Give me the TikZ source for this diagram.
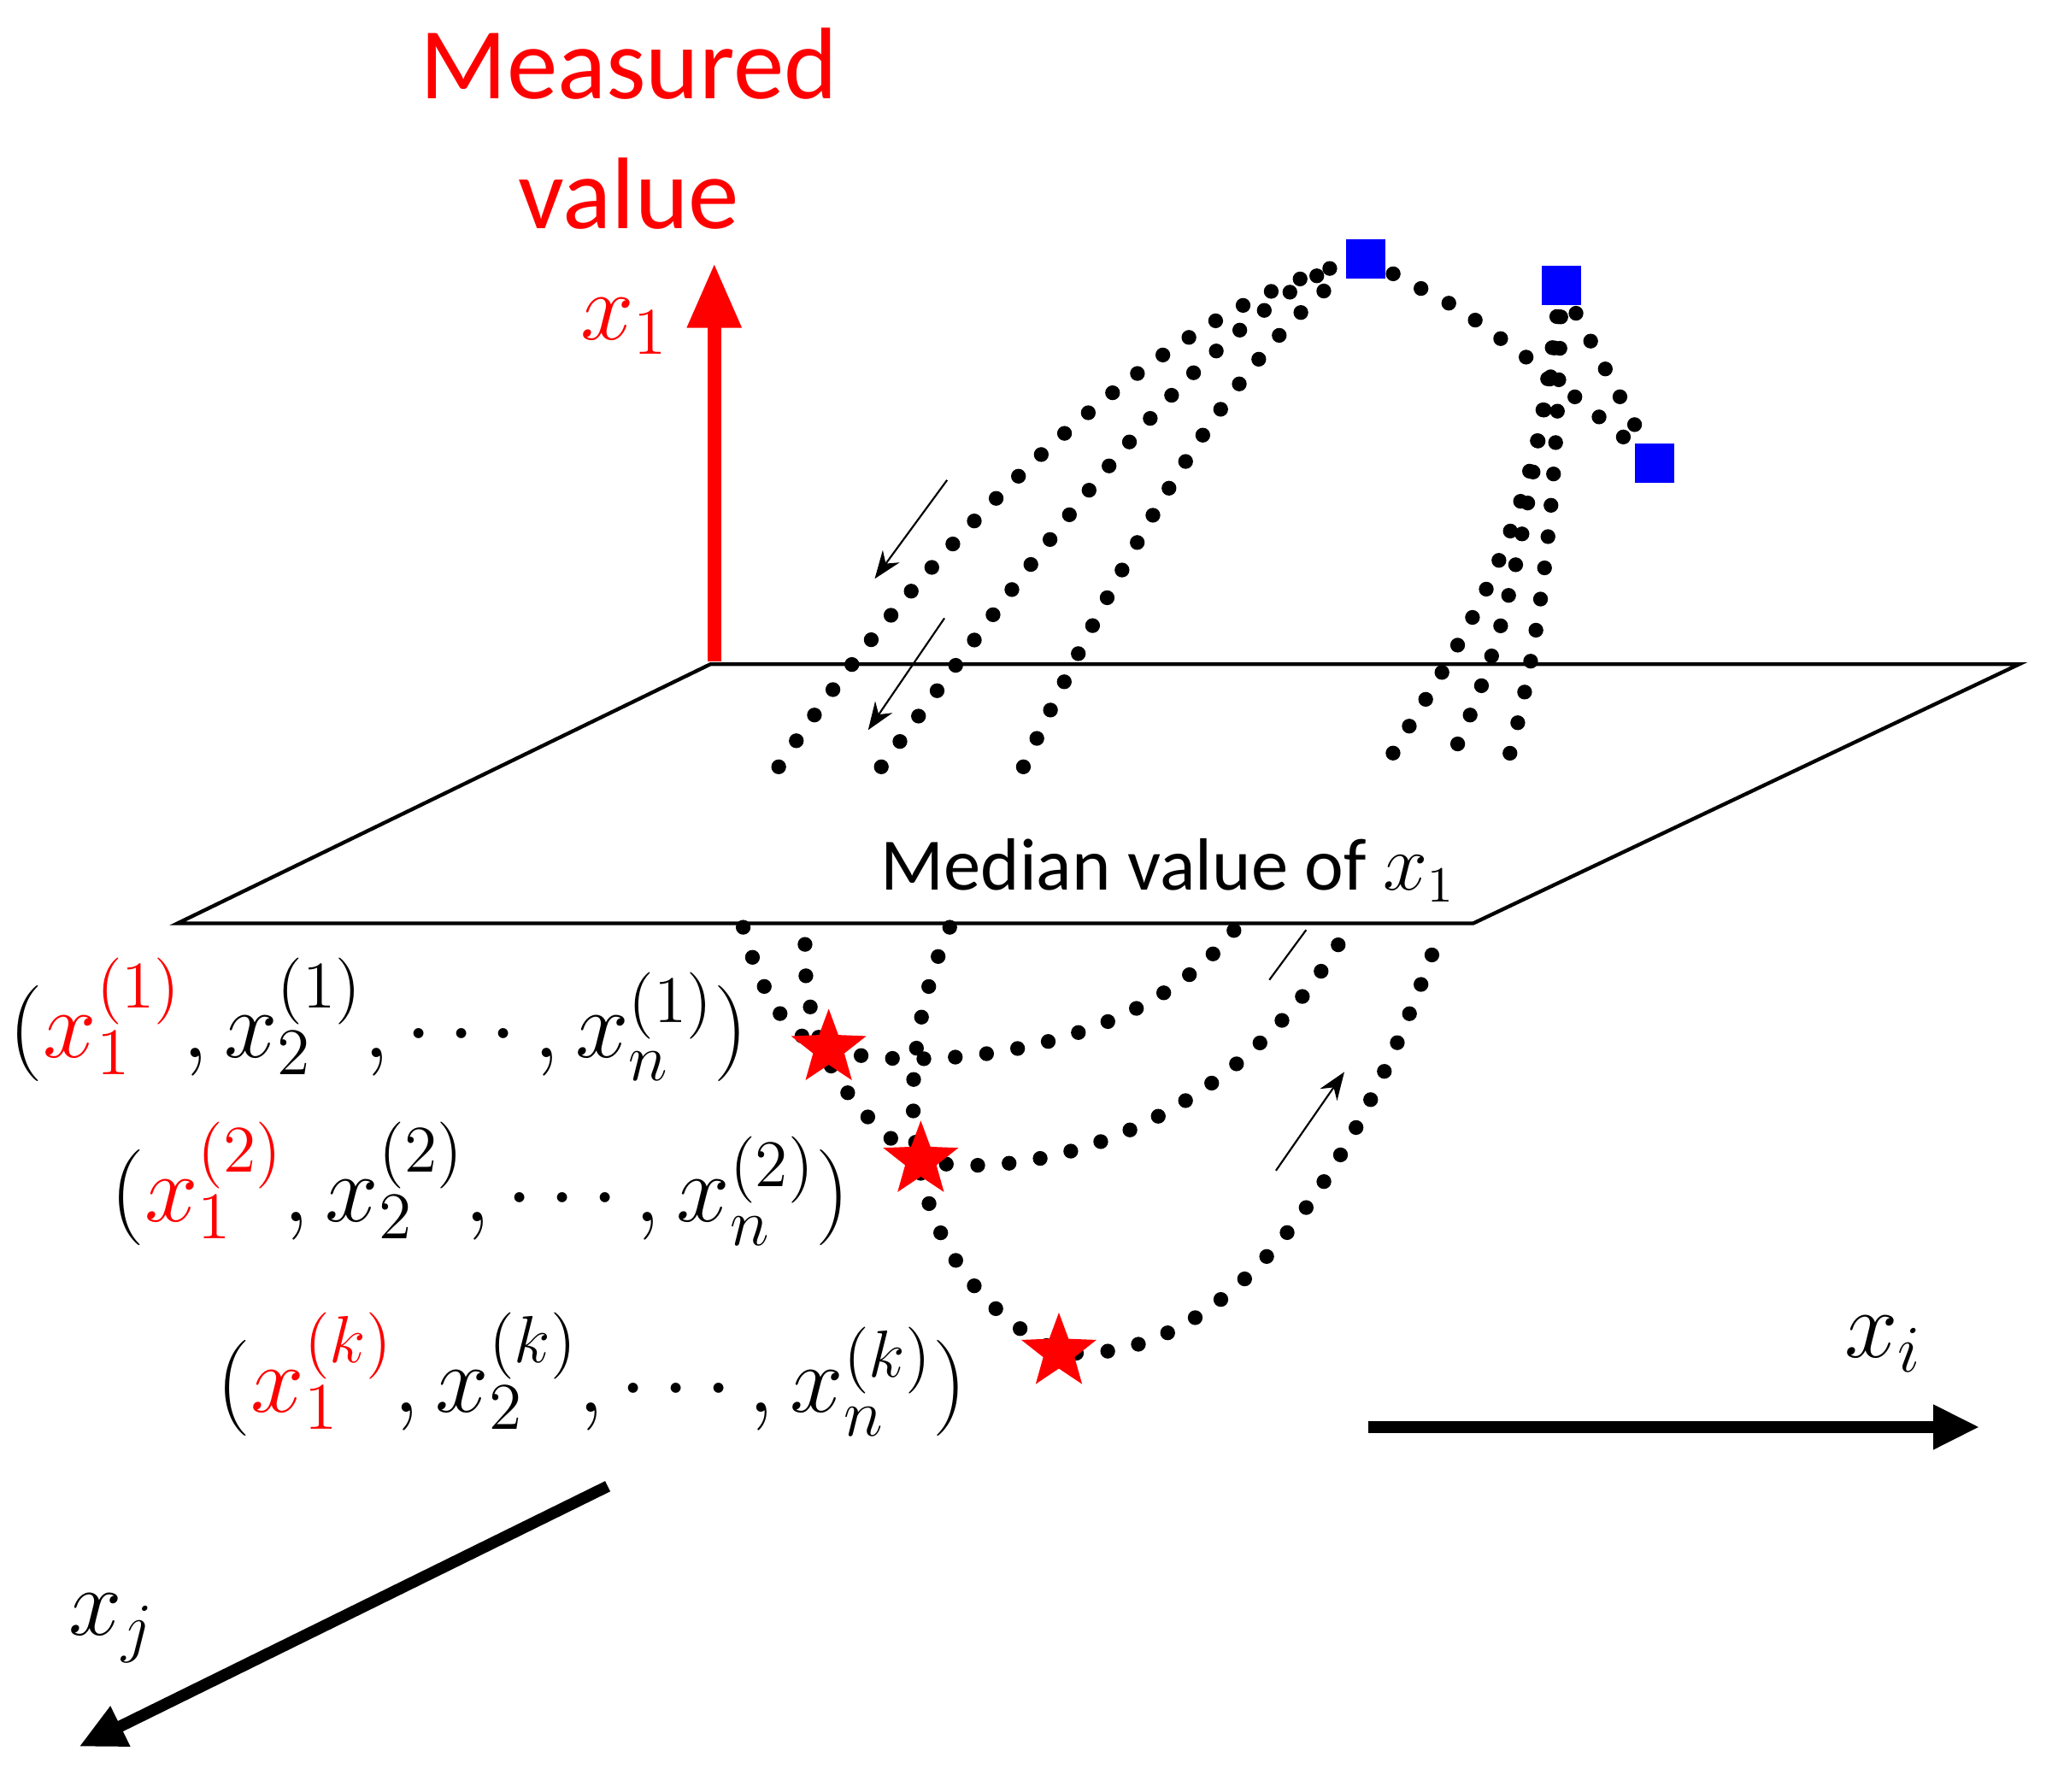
\documentclass[tikz,border=0pt]{standalone}
\usepackage{fontspec}
\setmainfont{Carlito}
\usetikzlibrary{shapes.geometric,arrows.meta}
\tikzset{
  dots/.style={line width=3.2pt,line cap=round,dash pattern=on 0pt off 6.8pt},
  lbl/.style={inner sep=0pt,font=\fontsize{19.5}{23}\selectfont},
  redstar/.style={star,star points=5,star point ratio=2.4,fill=red,inner sep=0pt,minimum size=0.6cm},
  bluesq/.style={fill=blue,inner sep=0pt,minimum size=0.3cm},
  thinarr/.style={-{Stealth[length=6pt]},thin},
  axis/.style={line width=2.5pt,-{Triangle[length=10pt,width=9pt]}}
}
\newcommand{\tup}[1]{$(\textcolor{red}{x_1^{(#1)}},x_2^{(#1)},\cdots,x_n^{(#1)})$}
\begin{document}
\begin{tikzpicture}[x=0.01cm,y=-0.01cm]
  \useasboundingbox (0,0) rectangle (1560,1362);
  % plane
  \draw[thick] (540,505) -- (1535,505) -- (1120,702) -- (135,702) -- cycle;
  \node[lbl,font=\fontsize{16}{20}\selectfont] (med) at (888,662) {Median value of $x_1$};
  % axes
  \coordinate (o) at (543,503);
  \coordinate (top) at (543,200);
  \draw[red,line width=3pt,-{Triangle[length=14pt,width=11pt]}] (o) -- (top);
  \node[lbl,red,font=\fontsize{22}{28}\selectfont,align=center] (meas) at (478,98) {Measured\\value};
  \node[lbl,red,font=\fontsize{22}{26}\selectfont] (xone) at (475,248) {$x_1$};
  \coordinate (ia) at (1040,1085);
  \coordinate (ib) at (1505,1085);
  \draw[axis] (ia) -- (ib);
  \node[lbl,font=\fontsize{22}{26}\selectfont] (xi) at (1432,1022) {$x_i$};
  \coordinate (ja) at (462,1130);
  \coordinate (jb) at (60,1328);
  \draw[axis] (ja) -- (jb);
  \node[lbl,font=\fontsize{22}{26}\selectfont] (xj) at (85,1238) {$x_j$};
  % marker positions
  \coordinate (sqa) at (1038,197);
  \coordinate (sqb) at (1187,217);
  \coordinate (sqc) at (1258,352);
  \coordinate (sta) at (630,797);
  \coordinate (stb) at (700,882);
  \coordinate (stc) at (805,1028);
  % upper trajectories
  \draw[dots] (592,583) .. controls (700,420) and (880,230) .. (sqa);
  \draw[dots] (670,583) .. controls (790,420) and (900,260) .. (1010,205);
  \draw[dots] (778,583) .. controls (850,430) and (930,280) .. (1020,210);
  \draw[dots] (sqa) -- (1110,235) -- (1165,275) -- (sqc);
  \draw[dots] (sqb) -- (sqc);
  \draw[dots] (sqb) .. controls (1170,420) and (1100,500) .. (1053,583);
  \draw[dots] (sqb) .. controls (1160,400) and (1150,480) .. (1100,583);
  \draw[dots] (sqb) .. controls (1185,350) and (1175,480) .. (1145,583);
  % lower trajectories
  \draw[dots] (565,705) .. controls (580,760) and (600,790) .. (sta)
              .. controls (680,815) and (860,810) .. (940,705);
  \draw[dots] (612,718) .. controls (610,800) and (650,850) .. (stb)
              .. controls (780,900) and (940,860) .. (1025,705);
  \draw[dots] (722,705) .. controls (680,800) and (670,960) .. (stc)
              .. controls (920,1040) and (1020,920) .. (1090,722);
  % markers
  \node[bluesq] at (sqa) {};
  \node[bluesq] at (sqb) {};
  \node[bluesq] at (sqc) {};
  \node[redstar] at (sta) {};
  \node[redstar] at (stb) {};
  \node[redstar] at (stc) {};
  % direction arrows
  \coordinate (a1) at (720,365); \coordinate (b1) at (665,440);
  \coordinate (a2) at (718,470); \coordinate (b2) at (660,555);
  \coordinate (a3) at (993,707); \coordinate (b3) at (965,745);
  \coordinate (a4) at (970,890); \coordinate (b4) at (1022,815);
  \draw[thinarr] (a1) -- (b1);
  \draw[thinarr] (a2) -- (b2);
  \draw[thin] (a3) -- (b3);
  \draw[thinarr] (a4) -- (b4);
  % tuples
  \node[lbl] (tupa) at (288,775) {\tup{1}};
  \node[lbl] (tupb) at (365,900) {\tup{2}};
  \node[lbl] (tupc) at (450,1045) {\tup{k}};
\end{tikzpicture}
\end{document}
